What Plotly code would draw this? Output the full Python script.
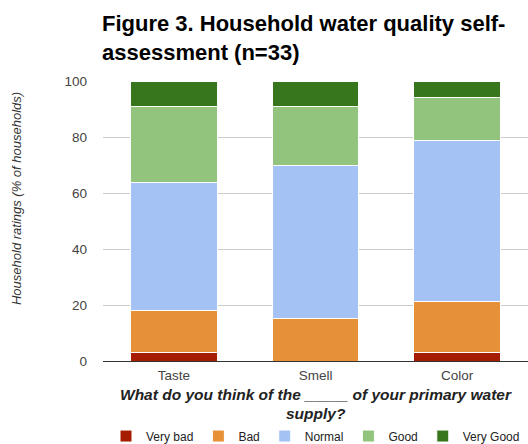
import plotly.graph_objects as go

categories = ["Taste", "Smell", "Color"]
very_bad = [3.03, 0.0, 3.03]
bad = [15.15, 15.15, 18.18]
normal = [45.45, 54.55, 57.58]
good = [27.27, 21.21, 15.15]
very_good = [9.09, 9.09, 6.06]
y_ticks = [0, 20, 40, 60, 80, 100]

series = [
    ("Very bad", very_bad, "#a61c00"),
    ("Bad", bad, "#e69138"),
    ("Normal", normal, "#a4c2f4"),
    ("Good", good, "#93c47d"),
    ("Very Good", very_good, "#38761d"),
]

FONT = "Arial, Liberation Sans, sans-serif"

fig = go.Figure()
for name, vals, color in series:
    fig.add_trace(go.Bar(
        x=categories, y=vals, name=name,
        marker=dict(color=color, line=dict(color="white", width=1)),
    ))

fig.update_layout(
    width=528, height=444,
    margin=dict(l=103, r=0, t=81, b=83, autoexpand=False),
    barmode="stack",
    bargap=0.39,
    plot_bgcolor="white",
    paper_bgcolor="white",
    font=dict(family=FONT, size=12, color="#444"),
    title=dict(
        text="Figure 3. Household water quality self-<br>assessment (n=33)",
        x=102/528, xanchor="left", xref="container",
        y=0.93, yanchor="top", yref="container",
        font=dict(size=22, color="#000", family=FONT, weight="bold"),
    ),
    legend=dict(
        orientation="h", x=0.5, xanchor="center", y=-0.268, yanchor="middle",
        font=dict(size=12, color="#222"), traceorder="normal",
        itemwidth=30,
    ),
    xaxis=dict(showgrid=False, showline=False, ticklabelstandoff=4, automargin=False,
               tickfont=dict(size=13.5, color="#444")),
    yaxis=dict(
        range=[0, 100], tickvals=y_ticks, automargin=False,
        showgrid=True, gridcolor="#cccccc", gridwidth=1,
        zeroline=True, zerolinecolor="#333333", zerolinewidth=1,
        ticklabelstandoff=15, tickfont=dict(size=13.5, color="#444"),
    ),
    annotations=[
        dict(
            text="<b><i>What do you think of the _____ of your primary water</i></b>",
            x=0.5, xref="paper", y=(361 - 394) / 280, yref="paper",
            xanchor="center", yanchor="middle",
            showarrow=False, font=dict(size=15.5, color="#222"),
        ),
        dict(
            text="<b><i>supply?</i></b>",
            x=0.5, xref="paper", y=(361 - 413) / 280, yref="paper",
            xanchor="center", yanchor="middle",
            showarrow=False, font=dict(size=15.5, color="#222"),
        ),
        dict(
            text="<i>Household ratings (% of households)</i>",
            x=-0.202, xref="paper", y=0.579, yref="paper", xanchor="center", yanchor="middle",
            textangle=-90, showarrow=False, font=dict(size=13, color="#333"),
        ),
    ],
)

fig.write_html("out.html")
